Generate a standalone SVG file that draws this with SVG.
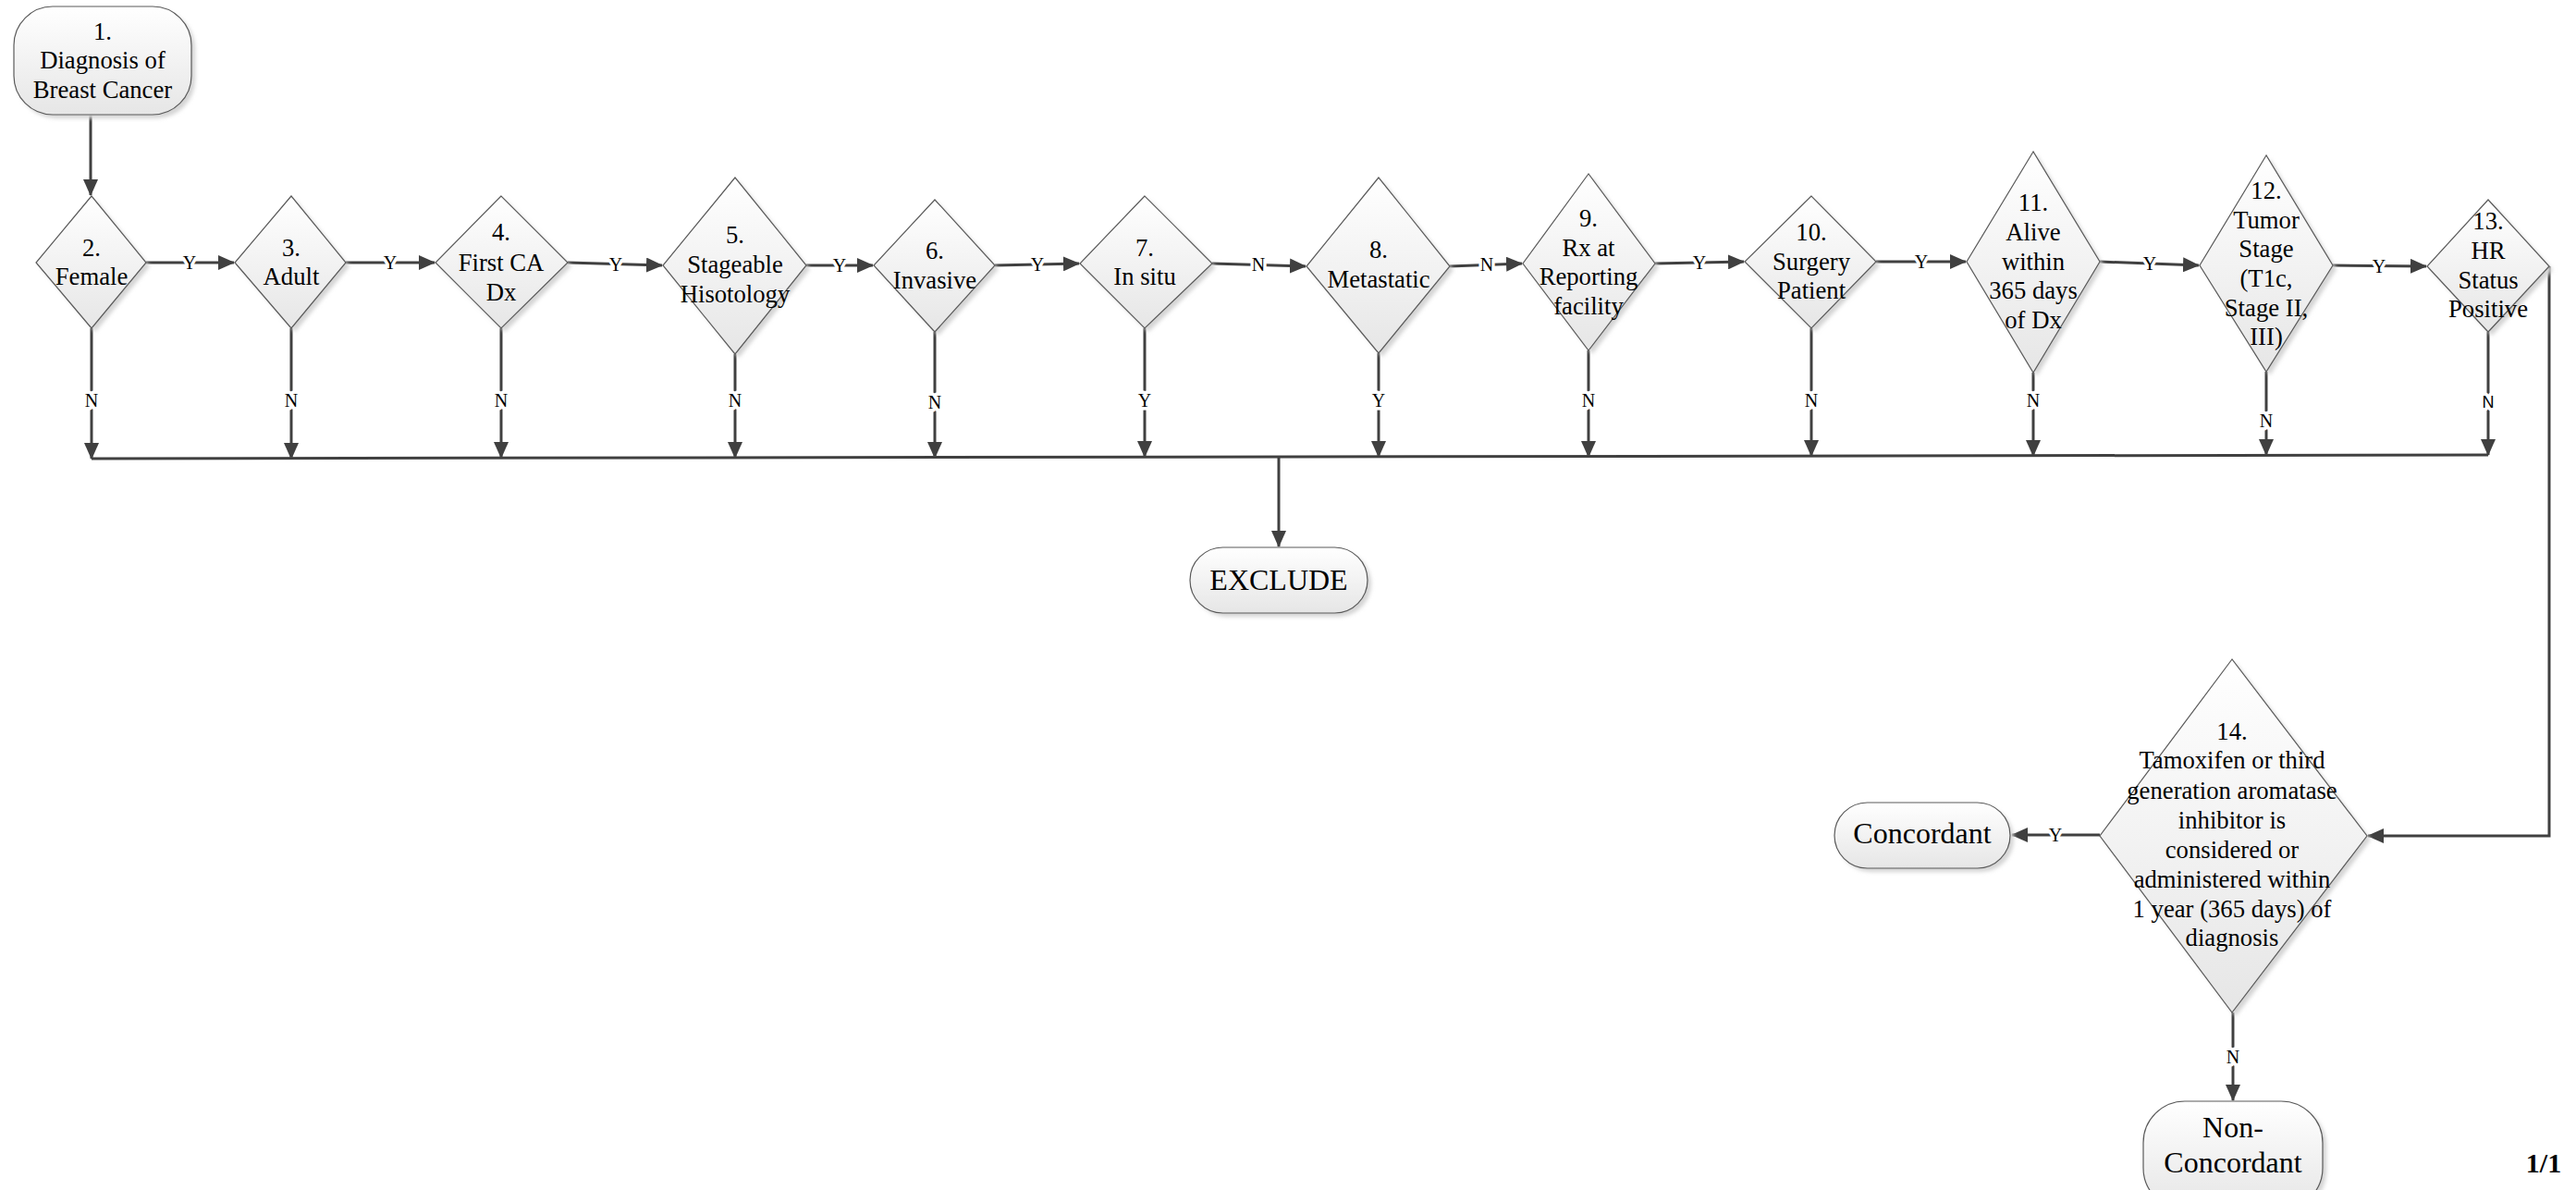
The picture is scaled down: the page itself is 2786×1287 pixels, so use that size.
<svg xmlns="http://www.w3.org/2000/svg" width="2786" height="1287" viewBox="0 0 2786 1287">
<style>
.bg{fill:#ffffff}
.shape{fill:url(#g);stroke:#5a5a5a;stroke-width:1.2}
.shadow{fill:#d4d4d4;filter:url(#blur)}
.t{font-family:"Liberation Serif","Times New Roman",serif;font-size:26.7px;fill:#000;text-anchor:middle}
.tl{font-family:"Liberation Serif","Times New Roman",serif;font-size:32px;fill:#000;text-anchor:middle}
.c{fill:none;stroke:#404040;stroke-width:3}
.ca{fill:none;stroke:#404040;stroke-width:3;marker-end:url(#arr)}
.lb{font-family:"Liberation Serif","Times New Roman",serif;font-size:20px;fill:#000;text-anchor:middle;stroke:#fff;stroke-width:7px;paint-order:stroke;stroke-linejoin:round}
.lbs{font-family:"Liberation Sans",Arial,sans-serif;font-size:18px;fill:#000;text-anchor:middle;stroke:#fff;stroke-width:7px;paint-order:stroke;stroke-linejoin:round}
</style>
<defs>
<linearGradient id="g" x1="0" y1="0" x2="0" y2="1">
<stop offset="0" stop-color="#ffffff"/>
<stop offset="1" stop-color="#e6e6e6"/>
</linearGradient>
<filter id="blur" x="-10%" y="-10%" width="120%" height="120%"><feGaussianBlur stdDeviation="2"/></filter>
<marker id="arr" markerUnits="userSpaceOnUse" markerWidth="18" markerHeight="16" refX="17" refY="8" orient="auto">
<path d="M0,0 L18,8 L0,16 z" fill="#404040"/>
</marker>
</defs>
<rect class="bg" x="0" y="0" width="2786" height="1287"/>

<g id="connectors">
<path class="ca" d="M98,124 L98,211"/>
<path class="ca" d="M158,284 L253,284"/><text class="lb" x="205" y="291">Y</text>
<path class="ca" d="M374,284 L470,284"/><text class="lb" x="422" y="291">Y</text>
<path class="ca" d="M614,284 L716,287"/><text class="lb" x="666" y="293">Y</text>
<path class="ca" d="M872,287 L944,287"/><text class="lb" x="908" y="294">Y</text>
<path class="ca" d="M1076,287 L1167,285"/><text class="lb" x="1122" y="293">Y</text>
<path class="ca" d="M1311,285 L1412,288"/><text class="lb" x="1361" y="293">N</text>
<path class="ca" d="M1568,288 L1646,285"/><text class="lb" x="1608" y="293">N</text>
<path class="ca" d="M1790,285 L1886,283"/><text class="lb" x="1838" y="291">Y</text>
<path class="ca" d="M2029,283 L2126,283"/><text class="lb" x="2078" y="290">Y</text>
<path class="ca" d="M2271,283 L2378,287"/><text class="lb" x="2325" y="292">Y</text>
<path class="ca" d="M2523,287 L2624,288"/><text class="lb" x="2573" y="295">Y</text>

<path class="c" d="M99,496 L2691,492"/>
<path class="ca" d="M99,355 L99,496"/><text class="lb" x="99" y="440">N</text>
<path class="ca" d="M315,355 L315,496"/><text class="lb" x="315" y="440">N</text>
<path class="ca" d="M542,355 L542,495"/><text class="lb" x="542" y="440">N</text>
<path class="ca" d="M795,383 L795,495"/><text class="lb" x="795" y="440">N</text>
<path class="ca" d="M1011,359 L1011,495"/><text class="lb" x="1011" y="442">N</text>
<path class="ca" d="M1238,355 L1238,494"/><text class="lb" x="1238" y="440">Y</text>
<path class="ca" d="M1491,382 L1491,494"/><text class="lb" x="1491" y="440">Y</text>
<path class="ca" d="M1718,379 L1718,494"/><text class="lb" x="1718" y="440">N</text>
<path class="ca" d="M1959,355 L1959,493"/><text class="lb" x="1959" y="440">N</text>
<path class="ca" d="M2199,403 L2199,493"/><text class="lb" x="2199" y="440">N</text>
<path class="ca" d="M2451,402 L2451,492"/><text class="lb" x="2451" y="462">N</text>
<path class="ca" d="M2691,359 L2691,492"/><text class="lbs" x="2691" y="441">N</text>

<path class="ca" d="M1383,494 L1383,591"/>

<path class="ca" d="M2757,288 L2757,904 L2561,904"/>
<path class="ca" d="M2271,903 L2176,903"/><text class="lb" x="2223" y="910">Y</text>
<path class="ca" d="M2415,1095 L2415,1190"/><text class="lb" x="2415" y="1150">N</text>
</g>

<g id="n1">
<rect class="shadow" x="19" y="11" width="192" height="117" rx="42" ry="42"/>
<rect class="shape" x="15" y="7" width="192" height="117" rx="42" ry="42"/>
<text class="t" x="111" y="43">1.</text>
<text class="t" x="111" y="74">Diagnosis of</text>
<text class="t" x="111" y="106">Breast Cancer</text>
</g>

<g id="n2">
<polygon class="shadow" points="103,216 43,288 103,359 162,288"/>
<polygon class="shape" points="99,212 39,284 99,355 158,284"/>
<text class="t" x="99" y="277">2.</text>
<text class="t" x="99" y="308">Female</text>
</g>

<g id="n3">
<polygon class="shadow" points="319,216 258,288 319,359 378,288"/>
<polygon class="shape" points="315,212 254,284 315,355 374,284"/>
<text class="t" x="315" y="277">3.</text>
<text class="t" x="315" y="308">Adult</text>
</g>

<g id="n4">
<polygon class="shadow" points="546,216 475,288 546,359 618,288"/>
<polygon class="shape" points="542,212 471,284 542,355 614,284"/>
<text class="t" x="542" y="260">4.</text>
<text class="t" x="542" y="293">First CA</text>
<text class="t" x="542" y="325">Dx</text>
</g>

<g id="n5">
<polygon class="shadow" points="799,196 721,291 799,387 876,291"/>
<polygon class="shape" points="795,192 717,287 795,383 872,287"/>
<text class="t" x="795" y="263">5.</text>
<text class="t" x="795" y="295">Stageable</text>
<text class="t" x="795" y="327">Hisotology</text>
</g>

<g id="n6">
<polygon class="shadow" points="1015,220 949,291 1015,363 1080,291"/>
<polygon class="shape" points="1011,216 945,287 1011,359 1076,287"/>
<text class="t" x="1011" y="280">6.</text>
<text class="t" x="1011" y="312">Invasive</text>
</g>

<g id="n7">
<polygon class="shadow" points="1242,216 1172,289 1242,359 1315,289"/>
<polygon class="shape" points="1238,212 1168,285 1238,355 1311,285"/>
<text class="t" x="1238" y="277">7.</text>
<text class="t" x="1238" y="308">In situ</text>
</g>

<g id="n8">
<polygon class="shadow" points="1495,196 1417,292 1495,386 1572,292"/>
<polygon class="shape" points="1491,192 1413,288 1491,382 1568,288"/>
<text class="t" x="1491" y="279">8.</text>
<text class="t" x="1491" y="311">Metastatic</text>
</g>

<g id="n9">
<polygon class="shadow" points="1722,192 1651,289 1722,383 1794,289"/>
<polygon class="shape" points="1718,188 1647,285 1718,379 1790,285"/>
<text class="t" x="1718" y="245">9.</text>
<text class="t" x="1718" y="277">Rx at</text>
<text class="t" x="1718" y="308">Reporting</text>
<text class="t" x="1718" y="340">facility</text>
</g>

<g id="n10">
<polygon class="shadow" points="1963,216 1891,287 1963,359 2033,287"/>
<polygon class="shape" points="1959,212 1887,283 1959,355 2029,283"/>
<text class="t" x="1959" y="260">10.</text>
<text class="t" x="1959" y="292">Surgery</text>
<text class="t" x="1959" y="323">Patient</text>
</g>

<g id="n11">
<polygon class="shadow" points="2203,168 2131,287 2203,407 2275,287"/>
<polygon class="shape" points="2199,164 2127,283 2199,403 2271,283"/>
<text class="t" x="2199" y="228">11.</text>
<text class="t" x="2199" y="260">Alive</text>
<text class="t" x="2199" y="292">within</text>
<text class="t" x="2199" y="323">365 days</text>
<text class="t" x="2199" y="355">of Dx</text>
</g>

<g id="n12">
<polygon class="shadow" points="2455,172 2383,291 2455,406 2527,291"/>
<polygon class="shape" points="2451,168 2379,287 2451,402 2523,287"/>
<text class="t" x="2451" y="215">12.</text>
<text class="t" x="2451" y="247">Tumor</text>
<text class="t" x="2451" y="278">Stage</text>
<text class="t" x="2451" y="310">(T1c,</text>
<text class="t" x="2451" y="342">Stage II,</text>
<text class="t" x="2451" y="373">III)</text>
</g>

<g id="n13">
<polygon class="shadow" points="2695,220 2629,292 2695,363 2761,292"/>
<polygon class="shape" points="2691,216 2625,288 2691,359 2757,288"/>
<text class="t" x="2691" y="248">13.</text>
<text class="t" x="2691" y="280">HR</text>
<text class="t" x="2691" y="312">Status</text>
<text class="t" x="2691" y="343">Positive</text>
</g>

<g id="n14">
<polygon class="shadow" points="2418,717 2275,908 2418,1099 2564,908"/>
<polygon class="shape" points="2414,713 2271,904 2414,1095 2560,904"/>
<text class="t" x="2414" y="800">14.</text>
<text class="t" x="2414" y="831">Tamoxifen or third</text>
<text class="t" x="2414" y="864">generation aromatase</text>
<text class="t" x="2414" y="896">inhibitor is</text>
<text class="t" x="2414" y="928">considered or</text>
<text class="t" x="2414" y="960">administered within</text>
<text class="t" x="2414" y="992">1 year (365 days) of</text>
<text class="t" x="2414" y="1023">diagnosis</text>
</g>

<g id="exclude">
<rect class="shadow" x="1291" y="596" width="192" height="71" rx="35.5" ry="35.5"/>
<rect class="shape" x="1287" y="592" width="192" height="71" rx="35.5" ry="35.5"/>
<text class="tl" x="1383" y="638">EXCLUDE</text>
</g>

<g id="concordant">
<rect class="shadow" x="1988" y="872" width="190" height="71" rx="35.5" ry="35.5"/>
<rect class="shape" x="1984" y="868" width="190" height="71" rx="35.5" ry="35.5"/>
<text class="tl" x="2079" y="912">Concordant</text>
</g>

<g id="nonconcordant">
<rect class="shadow" x="2322" y="1195" width="194" height="117" rx="45" ry="45"/>
<rect class="shape" x="2318" y="1191" width="194" height="117" rx="45" ry="45"/>
<text class="tl" x="2415" y="1230">Non-</text>
<text class="tl" x="2415" y="1268">Concordant</text>
</g>

<text x="2751" y="1268" style="font-family:'Liberation Serif','Times New Roman',serif;font-size:30px;font-weight:bold;text-anchor:middle;fill:#000">1/1</text>
</svg>
